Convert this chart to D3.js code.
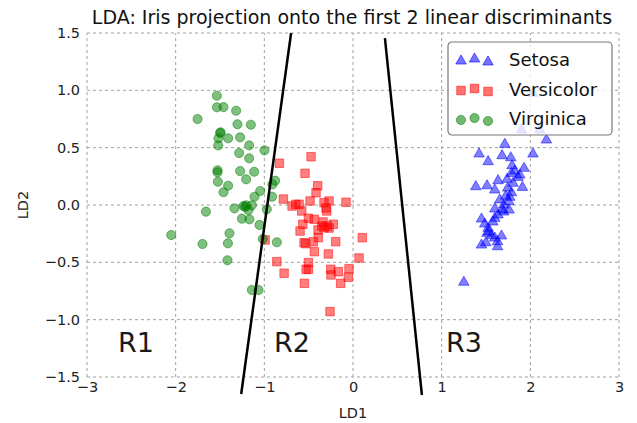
<!DOCTYPE html>
<html>
<head>
<meta charset="utf-8">
<script src="https://cdn.jsdelivr.net/npm/d3@7"></script>
<style>
  body { margin: 0; background: #fff; }
  text { font-family: "DejaVu Sans", sans-serif; }
</style>
</head>
<body>
<svg id="chart" width="637" height="423"></svg>
<script>
// projected points [LD1, LD2]
const setosa = [
  [1.900, 0.654], [2.106, 0.654], [2.030, 0.974], [2.181, 0.567], [1.712, 0.529],
  [1.422, 0.445], [1.681, 0.430], [2.030, 0.445], [1.524, 0.378], [1.779, 0.412],
  [1.794, 0.343], [1.929, 0.320], [1.787, 0.276], [1.861, 0.241], [1.738, 0.224],
  [1.636, 0.212], [1.805, 0.189], [1.385, 0.160], [1.512, 0.168], [1.599, 0.131],
  [1.911, 0.154], [1.787, 0.107], [1.768, 0.067], [1.757, 0.029], [1.700, 0.000],
  [1.599, -0.035], [1.686, -0.044], [1.760, -0.044], [1.636, -0.087], [1.599, -0.116],
  [1.449, -0.122], [1.486, -0.166], [1.524, -0.203], [1.512, -0.247], [1.562, -0.268],
  [1.675, -0.270], [1.630, -0.320], [1.630, -0.364], [1.449, -0.349], [1.498, -0.329],
  [1.250, -0.674], [1.824, 0.296], [1.881, 0.262], [1.723, 0.078], [1.655, 0.044],
  [1.577, -0.148], [1.532, -0.235], [1.599, -0.288], [1.700, -0.061], [1.745, 0.148]
];
const versicolor = [
  [-0.473, 0.421], [-0.830, 0.364], [-0.541, 0.276], [-0.398, 0.168], [-0.417, 0.107],
  [-0.785, 0.052], [-0.645, 0.006], [-0.608, 0.006], [-0.484, 0.035], [-0.327, 0.020],
  [-0.270, 0.035], [-0.079, 0.024], [-0.578, -0.052], [-0.296, -0.052], [-0.503, -0.116],
  [-0.436, -0.125], [-0.566, -0.168], [-0.352, -0.183], [-0.289, -0.183], [-0.222, -0.168],
  [-0.327, -0.198], [-0.597, -0.227], [-0.391, -0.285], [-0.447, -0.320], [-0.552, -0.329],
  [-0.533, -0.337], [-0.195, -0.320], [0.105, -0.285], [-0.991, -0.305], [-0.436, -0.407],
  [-0.278, -0.427], [0.068, -0.462], [-0.859, -0.494], [-0.503, -0.503], [-0.529, -0.561],
  [-0.503, -0.561], [-0.251, -0.561], [-0.045, -0.555], [-0.777, -0.595], [-0.248, -0.610],
  [-0.166, -0.582], [-0.053, -0.630], [-0.139, -0.683], [-0.548, -0.683], [-0.259, -0.930],
  [-0.304, -0.026], [-0.338, -0.148], [-0.394, -0.218], [-0.687, -0.009], [-0.270, -0.201]
];
const virginica = [
  [-1.535, 0.953], [-1.535, 0.852], [-1.461, 0.854], [-1.318, 0.822], [-1.753, 0.750],
  [-1.303, 0.704], [-1.152, 0.700], [-1.494, 0.634], [-1.517, 0.582], [-1.408, 0.582],
  [-1.273, 0.590], [-1.520, 0.520], [-1.171, 0.520], [-0.999, 0.477], [-1.284, 0.453],
  [-1.171, 0.407], [-1.528, 0.303], [-1.528, 0.285], [-1.273, 0.296], [-1.115, 0.290],
  [-1.205, 0.224], [-1.524, 0.203], [-1.408, 0.168], [-1.461, 0.111], [-1.047, 0.122],
  [-0.878, 0.212], [-0.909, 0.180], [-1.111, 0.072], [-0.912, 0.072], [-1.337, -0.029],
  [-1.235, -0.009], [-1.205, -0.003], [-1.141, -0.003], [-1.179, -0.044], [-1.253, -0.119],
  [-1.168, -0.125], [-0.972, -0.037], [-1.659, -0.058], [-1.055, -0.174], [-2.050, -0.262],
  [-1.393, -0.247], [-1.697, -0.340], [-1.411, -0.334], [-1.017, -0.296], [-0.859, -0.325],
  [-1.416, -0.482], [-1.141, -0.741], [-1.066, -0.741], [-1.498, 0.628], [-1.216, -0.017]
];

// decision boundaries, endpoints
const boundaryA = [[-1.261, -1.648], [-0.698, 1.50]];
const boundaryB = [[0.777, -1.657], [0.360, 1.456]];

const regionNames = ["R1", "R2", "R3"];
const regionPos = [[-2.65, -1.28], [-0.89, -1.28], [1.05, -1.28]];

const xTicks = [-3, -2, -1, 0, 1, 2, 3];
const yTicks = [-1.5, -1.0, -0.5, 0.0, 0.5, 1.0, 1.5];

const classNames = ["Setosa", "Versicolor", "Virginica"];
const classColors = ["#0000ff", "#ff0000", "#008000"];

const svg = d3.select("#chart");
const margin = {left: 87, right: 18, top: 33, bottom: 46};
const W = 637, H = 423;

const x = d3.scaleLinear().domain([-3, 3]).range([margin.left, W - margin.right]);
const y = d3.scaleLinear().domain([-1.5, 1.5]).range([H - margin.bottom, margin.top]);

// grid
const grid = svg.append("g").attr("class", "grid")
  .attr("stroke", "#a0a0a0").attr("stroke-width", 1).attr("stroke-dasharray", "3,3");
grid.selectAll("line.gx").data(xTicks).enter().append("line")
  .attr("x1", d => x(d)).attr("x2", d => x(d))
  .attr("y1", y(-1.5)).attr("y2", y(1.5));
grid.selectAll("line.gy").data(yTicks).enter().append("line")
  .attr("y1", d => y(d)).attr("y2", d => y(d))
  .attr("x1", x(-3)).attr("x2", x(3));

// axes, no spines
const fmtY = d => d3.format(".1f")(d).replace("-", "\u2212");
const fmtX = d => d3.format("d")(d).replace("-", "\u2212");

const xAxis = svg.append("g")
  .attr("transform", "translate(0," + y(-1.5) + ")")
  .call(d3.axisBottom(x).tickValues(xTicks).tickFormat(fmtX).tickSize(0).tickPadding(5));
const yAxis = svg.append("g")
  .attr("transform", "translate(" + x(-3) + ",0)")
  .call(d3.axisLeft(y).tickValues(yTicks).tickFormat(fmtY).tickSize(0).tickPadding(7));
[xAxis, yAxis].forEach(a => {
  a.select(".domain").remove();
  a.attr("font-family", "DejaVu Sans").attr("font-size", 14.5);
  a.selectAll("text").attr("fill", "#222");
});

svg.append("text").attr("x", x(0)).attr("y", 418).attr("text-anchor", "middle")
  .attr("font-size", 14.5).attr("fill", "#222").text("LD1");
svg.append("text").attr("transform", "translate(28," + y(0) + ") rotate(-90)")
  .attr("text-anchor", "middle").attr("font-size", 14.5).attr("fill", "#222").text("LD2");

svg.append("text").attr("x", 352).attr("y", 24).attr("text-anchor", "middle")
  .attr("font-size", 19).attr("fill", "#111")
  .text("LDA: Iris projection onto the first 2 linear discriminants");

// points
const symbols = [d3.symbolTriangle, d3.symbolSquare, d3.symbolCircle];
const sizes = [48, 72, 66];
const series = [setosa, versicolor, virginica];

series.forEach((pts, i) => {
  const sym = d3.symbol().type(symbols[i]).size(sizes[i]);
  svg.append("g").selectAll("path").data(pts).enter().append("path")
    .attr("d", sym)
    .attr("transform", d => "translate(" + x(d[0]) + "," + y(d[1]) + ")")
    .attr("fill", classColors[i]).attr("fill-opacity", 0.5)
    .attr("stroke", classColors[i]).attr("stroke-opacity", 0.5).attr("stroke-width", 1);
});

// boundary lines
const line = d3.line().x(d => x(d[0])).y(d => y(d[1]));
svg.append("g").selectAll("path").data([boundaryA, boundaryB]).enter().append("path")
  .attr("d", line).attr("fill", "none").attr("stroke", "#000").attr("stroke-width", 2.5);

// region labels
svg.append("g").selectAll("text").data(regionNames).enter().append("text")
  .attr("x", (d, i) => x(regionPos[i][0]))
  .attr("y", (d, i) => y(regionPos[i][1]))
  .attr("font-size", 27).attr("fill", "#1a1a1a")
  .text(d => d);

// legend
const legend = svg.append("g").attr("transform", "translate(448,42)");
legend.append("rect").attr("width", 164).attr("height", 93).attr("rx", 4)
  .attr("fill", "#fff").attr("fill-opacity", 0.8)
  .attr("stroke", "#777").attr("stroke-width", 1.2);
const yOff = [0.375, 0.5, 0.3125];
classNames.forEach((name, i) => {
  const row = legend.append("g").attr("transform", "translate(0," + (i * 29.5) + ")");
  const sym = d3.symbol().type(symbols[i]).size(sizes[i]);
  [0, 1, 2].forEach(k => {
    row.append("path").attr("d", sym)
      .attr("transform", "translate(" + (13 + k * 13.5) + "," + (19 - (yOff[k] - 0.375) * 16) + ")")
      .attr("fill", classColors[i]).attr("fill-opacity", 0.55)
      .attr("stroke", classColors[i]).attr("stroke-opacity", 0.55);
  });
  row.append("text").attr("x", 61).attr("y", 24)
    .attr("font-size", 18).attr("fill", "#111").text(name);
});
</script>
</body>
</html>
